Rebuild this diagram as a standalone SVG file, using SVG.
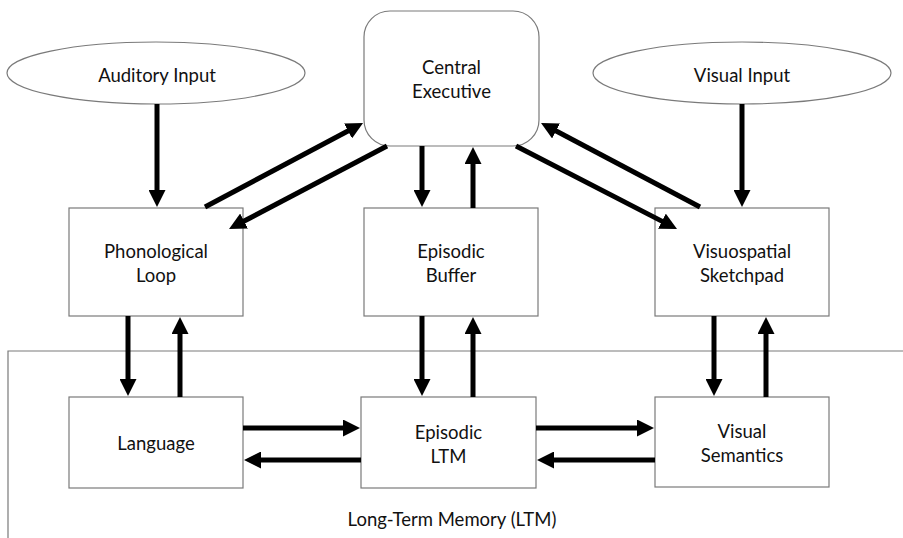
<svg xmlns="http://www.w3.org/2000/svg" width="903" height="538" viewBox="0 0 903 538">
<style>
  .box { fill: #ffffff; stroke: #7a7a7a; stroke-width: 1.2; }
  .lbl { font-family: Lato, "Liberation Sans", sans-serif; font-size: 18.5px; fill: #111111; text-anchor: middle; }
  .arr { stroke: #000000; stroke-width: 5; fill: none; marker-end: url(#ah); }
  .sep { stroke: #7a7a7a; stroke-width: 1.2; fill: none; }
</style>
<defs>
  <marker id="ah" markerUnits="userSpaceOnUse" viewBox="0 0 17 17" markerWidth="17" markerHeight="17" refX="2" refY="8.5" orient="auto">
    <path d="M0,0 L17,8.5 L0,17 z" fill="#000000"/>
  </marker>
</defs>
<rect width="903" height="538" fill="#ffffff"/>

<g id="ltm-region">
  <path class="sep" d="M8,538 L8,351 L903,351"/>
  <text class="lbl" x="452" y="526">Long-Term Memory (LTM)</text>
</g>

<g id="auditory-input">
  <ellipse class="box" cx="156" cy="73" rx="149" ry="31"/>
  <text class="lbl" x="157" y="82">Auditory Input</text>
</g>
<g id="visual-input">
  <ellipse class="box" cx="742" cy="73" rx="149" ry="31"/>
  <text class="lbl" x="742" y="82">Visual Input</text>
</g>
<g id="central-executive">
  <rect class="box" x="364" y="11" width="175" height="135" rx="26" ry="26"/>
  <text class="lbl" x="451.5" y="74">Central</text>
  <text class="lbl" x="451.5" y="98">Executive</text>
</g>
<g id="phonological-loop">
  <rect class="box" x="69" y="208" width="174" height="108"/>
  <text class="lbl" x="156" y="258">Phonological</text>
  <text class="lbl" x="156" y="282">Loop</text>
</g>
<g id="episodic-buffer">
  <rect class="box" x="364" y="208" width="174" height="108"/>
  <text class="lbl" x="451" y="258">Episodic</text>
  <text class="lbl" x="451" y="282">Buffer</text>
</g>
<g id="visuospatial-sketchpad">
  <rect class="box" x="655" y="208" width="174" height="108"/>
  <text class="lbl" x="742" y="258">Visuospatial</text>
  <text class="lbl" x="742" y="282">Sketchpad</text>
</g>
<g id="language">
  <rect class="box" x="69" y="397" width="174" height="91"/>
  <text class="lbl" x="156" y="450">Language</text>
</g>
<g id="episodic-ltm">
  <rect class="box" x="361" y="397" width="175" height="91"/>
  <text class="lbl" x="448.5" y="439">Episodic</text>
  <text class="lbl" x="448.5" y="463">LTM</text>
</g>
<g id="visual-semantics">
  <rect class="box" x="655" y="397" width="174" height="90"/>
  <text class="lbl" x="742" y="438">Visual</text>
  <text class="lbl" x="742" y="462">Semantics</text>
</g>

<g id="connectors">
  <line class="arr" x1="157" y1="104" x2="157" y2="192"/>
  <line class="arr" x1="742" y1="104" x2="742" y2="192"/>
  <line class="arr" x1="422" y1="146" x2="422" y2="192"/>
  <line class="arr" x1="473" y1="208" x2="473" y2="162"/>
  <line class="arr" x1="205" y1="207" x2="349.8" y2="130"/>
  <line class="arr" x1="387" y1="146" x2="242.3" y2="222"/>
  <line class="arr" x1="516" y1="146" x2="663.7" y2="222.1"/>
  <line class="arr" x1="700" y1="207" x2="554.3" y2="130"/>
  <line class="arr" x1="128" y1="316" x2="128" y2="381"/>
  <line class="arr" x1="180" y1="397" x2="180" y2="332"/>
  <line class="arr" x1="422" y1="316" x2="422" y2="381"/>
  <line class="arr" x1="473" y1="397" x2="473" y2="332"/>
  <line class="arr" x1="714" y1="316" x2="714" y2="381"/>
  <line class="arr" x1="766" y1="397" x2="766" y2="332"/>
  <line class="arr" x1="243" y1="428" x2="345" y2="428"/>
  <line class="arr" x1="361" y1="460" x2="259" y2="460"/>
  <line class="arr" x1="536" y1="428" x2="639" y2="428"/>
  <line class="arr" x1="655" y1="460" x2="552" y2="460"/>
</g>
</svg>
